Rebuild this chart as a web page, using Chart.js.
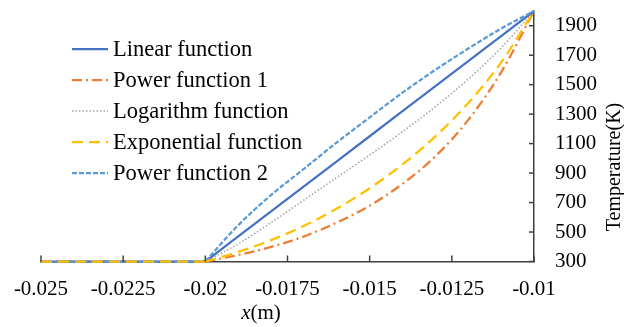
<!DOCTYPE html>
<html>
<head>
<meta charset="utf-8">
<script src="https://cdn.jsdelivr.net/npm/chart.js@4.4.1/dist/chart.umd.min.js"></script>
<style>
  html, body { margin: 0; padding: 0; background: #fff; }
  #wrap { width: 624px; height: 327px; }
</style>
</head>
<body>
<div id="wrap"><canvas id="chart" width="624" height="327"></canvas></div>
<script>
const xTicks = [-0.025, -0.0225, -0.02, -0.0175, -0.015, -0.0125, -0.01];
const yTicks = [300, 500, 700, 900, 1100, 1300, 1500, 1700, 1900];

// flat initial region, same for every series
const baseX = [-0.025, -0.02];
const baseT = [300, 300];

// heated region
const xValues = [-0.02, -0.019, -0.018, -0.017, -0.016, -0.015, -0.014, -0.013, -0.012, -0.011, -0.01];
const linear = [300, 470, 640, 810, 980, 1150, 1320, 1490, 1660, 1830, 2000];
const power1 = [300, 344, 399, 470, 564, 679, 827, 1014, 1261, 1584, 2000];
const logarithm = [300, 419, 564, 717, 870, 1023, 1181, 1351, 1538, 1750, 2000];
const exponential = [300, 365, 445, 542, 659, 797, 959, 1149, 1376, 1651, 2000];
const power2 = [300, 546, 751, 929, 1108, 1278, 1446, 1601, 1745, 1881, 2000];

const seriesNames = ['Linear function', 'Power function 1', 'Logarithm function', 'Exponential function', 'Power function 2'];
const seriesValues = [linear, power1, logarithm, exponential, power2];
const seriesColors = ['#4472C4', '#ED7D31', '#A5A5A5', '#FFC000', '#5B9BD5'];
const seriesDashes = [[], [10, 4, 2, 4], [1.5, 2], [11, 6], [5, 2]];
const seriesWidths = [2.25, 2.25, 1.6, 2.25, 2.25];
const seriesOrder = [3, 4, 5, 1, 2];

const FONT = "'Liberation Serif', 'Times New Roman', serif";
const axisColor = '#404040';

function lineSet(label, xs, ys, i, smooth) {
    return {
        label: label,
        data: ys.map((v, k) => ({ x: xs[k], y: v })),
        borderColor: seriesColors[i],
        backgroundColor: seriesColors[i],
        borderDash: seriesDashes[i],
        borderWidth: seriesWidths[i],
        pointRadius: 0,
        tension: smooth ? 0.4 : 0,
        cubicInterpolationMode: smooth ? 'monotone' : 'default',
        fill: false,
        clip: 4,
        order: seriesOrder[i]
    };
}

const datasets = [];
seriesNames.forEach((name, i) => {
    datasets.push(lineSet(name, xValues, seriesValues[i], i, true));
    datasets.push(lineSet(name + ' base', baseX, baseT, i, false));
});

// inner tick marks, legend and axis titles
const decorations = {
    id: 'decorations',
    afterDraw(chart) {
        const { ctx, chartArea, scales } = chart;
        ctx.save();

        ctx.strokeStyle = axisColor;
        ctx.lineWidth = 1.5;
        ctx.setLineDash([]);
        xTicks.forEach(v => {
            const px = scales.x.getPixelForValue(v);
            ctx.beginPath();
            ctx.moveTo(px, chartArea.bottom);
            ctx.lineTo(px, chartArea.bottom - 6);
            ctx.stroke();
        });
        yTicks.forEach(v => {
            const py = scales.y.getPixelForValue(v);
            ctx.beginPath();
            ctx.moveTo(chartArea.right, py);
            ctx.lineTo(chartArea.right - 5, py);
            ctx.stroke();
        });

        // legend
        ctx.font = '22.5px ' + FONT;
        ctx.textBaseline = 'middle';
        ctx.textAlign = 'left';
        ctx.fillStyle = '#000';
        seriesNames.forEach((name, i) => {
            const y = 49 + i * 31;
            ctx.strokeStyle = seriesColors[i];
            ctx.lineWidth = seriesWidths[i];
            ctx.setLineDash(seriesDashes[i]);
            ctx.beginPath();
            ctx.moveTo(72, y);
            ctx.lineTo(108, y);
            ctx.stroke();
            ctx.fillText(name, 113, y + 1);
        });
        ctx.setLineDash([]);

        // x title: italic x followed by (m)
        const xt1 = 'x', xt2 = '(m)';
        ctx.font = 'italic 21px ' + FONT;
        const w1 = ctx.measureText(xt1).width;
        ctx.font = '21px ' + FONT;
        const w2 = ctx.measureText(xt2).width;
        let sx = 261 - (w1 + w2) / 2;
        ctx.font = 'italic 21px ' + FONT;
        ctx.fillText(xt1, sx, 313);
        ctx.font = '21px ' + FONT;
        ctx.fillText(xt2, sx + w1, 313);

        // y title, reading upwards
        ctx.font = '20px ' + FONT;
        ctx.translate(615, 167);
        ctx.rotate(-Math.PI / 2);
        ctx.textAlign = 'center';
        ctx.fillText('Temperature(K)', 0, 0);
        ctx.restore();
    }
};

new Chart(document.getElementById('chart'), {
    type: 'line',
    data: { datasets: datasets },
    options: {
        responsive: false,
        animation: false,
        devicePixelRatio: 1,
        layout: { padding: { left: 41, top: 11, right: 0, bottom: 0 } },
        plugins: {
            legend: { display: false },
            tooltip: { enabled: false }
        },
        scales: {
            x: {
                type: 'linear',
                position: 'bottom',
                min: -0.025,
                max: -0.01,
                afterBuildTicks: scale => { scale.ticks = xTicks.map(v => ({ value: v })); },
                afterFit: scale => {
                    scale.height = 65.5;
                    scale.paddingLeft = 0; scale.paddingRight = 0;
                },
                grid: { display: true, drawOnChartArea: false, drawTicks: false },
                border: { display: true, color: axisColor, width: 1.5 },
                ticks: {
                    autoSkip: false,
                    maxRotation: 0,
                    padding: 15,
                    color: '#000',
                    font: { family: FONT, size: 21 },
                    callback: value => String(value)
                }
            },
            y: {
                type: 'linear',
                position: 'right',
                min: 300,
                max: 2000,
                afterBuildTicks: scale => { scale.ticks = yTicks.map(v => ({ value: v })); },
                afterFit: scale => {
                    scale.width = 90;
                    scale.paddingTop = 0; scale.paddingBottom = 0;
                },
                grid: { display: true, drawOnChartArea: false, drawTicks: false },
                border: { display: true, color: axisColor, width: 1.5 },
                ticks: {
                    padding: 21,
                    color: '#000',
                    font: { family: FONT, size: 21 },
                    callback: value => String(value)
                }
            }
        }
    },
    plugins: [decorations]
});
</script>
</body>
</html>
